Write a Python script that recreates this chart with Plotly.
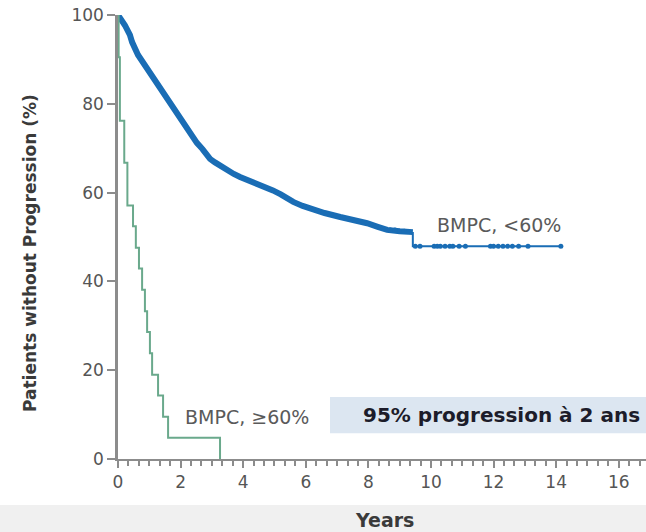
import plotly.graph_objects as go

# Kaplan-Meier estimates: time (years) and % of patients without progression
low_bmpc_t = [0, 0.1, 0.22, 0.38, 0.45, 0.64, 0.8, 0.96, 1.12, 1.28, 1.44, 1.6,
              1.76, 2.0, 2.2, 2.4, 2.52, 2.7, 2.94, 3.1, 3.26, 3.48, 3.7, 3.9, 4.22,
              4.5, 4.76, 4.95, 5.2, 5.4, 5.6, 5.9, 6.23, 6.6, 7.1, 7.5, 7.96, 8.3,
              8.6, 9.0, 9.23, 9.42, 14.15]
low_bmpc_s = [100, 99.0, 97.7, 95.5, 93.9, 91.0, 89.3, 87.8, 86.0, 84.2, 83.1, 81.2,
              79.3, 76.8, 74.8, 72.8, 71.2, 69.8, 67.6, 66.8, 66.0, 65.0, 64.2, 63.5,
              62.6, 62.0, 61.2, 60.5, 59.6, 58.6, 57.9, 57.0, 56.1, 55.4, 54.5, 53.9,
              53.1, 52.3, 51.6, 51.3, 51.1, 47.9, 47.9]
low_bmpc_censored = [8.7, 8.85, 9.0, 9.15, 9.5, 9.65, 10.1, 10.2, 10.3, 10.45, 10.6,
                     10.7, 10.9, 11.1, 11.9, 12.0, 12.15, 12.3, 12.45, 12.6, 12.8,
                     13.1, 14.15]

high_bmpc_t = [0, 0.02, 0.06, 0.2, 0.3, 0.48, 0.57, 0.67, 0.77, 0.86, 0.93, 1.02,
               1.09, 1.28, 1.44, 1.60, 3.26]
high_bmpc_s = [100, 90.5, 76.2, 66.7, 57.1, 52.4, 47.6, 42.9, 38.1, 33.3, 28.6, 23.8,
               19.0, 14.3, 9.5, 4.8, 0]

x_ticks = [0, 2, 4, 6, 8, 10, 12, 14, 16]
y_ticks = [0, 20, 40, 60, 80, 100]

BLUE = "#1a6db5"
GREEN = "#6aa98c"
AXIS = "#8c8c8c"
TEXT = "#555555"
FONT = "DejaVu Sans, Liberation Sans, sans-serif"


def surv_at(ts, ss, t):
    """Value of a right-continuous step function at time t."""
    val = ss[0]
    for ti, si in zip(ts, ss):
        if ti <= t:
            val = si
        else:
            break
    return val


fig = go.Figure()

# Main body of the <60% curve: many small steps and censor ticks blend into a thick band
split = low_bmpc_t.index(9.42)
body_t = low_bmpc_t[:split] + [low_bmpc_t[split]]
body_s = low_bmpc_s[:split] + [low_bmpc_s[split - 1]]
fig.add_trace(go.Scatter(
    x=body_t, y=body_s, mode="lines",
    line=dict(color=BLUE, width=6, shape="linear"), cliponaxis=False,
    hoverinfo="skip", showlegend=False))
fig.add_trace(go.Scatter(
    x=[low_bmpc_t[split]] + low_bmpc_t[split:],
    y=[low_bmpc_s[split - 1]] + low_bmpc_s[split:], mode="lines",
    line=dict(color=BLUE, width=2), cliponaxis=False,
    hoverinfo="skip", showlegend=False))
fig.add_trace(go.Scatter(
    x=low_bmpc_censored,
    y=[surv_at(low_bmpc_t, low_bmpc_s, t) for t in low_bmpc_censored],
    mode="markers",
    marker=dict(symbol="circle", size=5, color=BLUE, line=dict(width=0)),
    cliponaxis=False, hoverinfo="skip", showlegend=False))

# >=60% curve
fig.add_trace(go.Scatter(
    x=high_bmpc_t, y=high_bmpc_s, mode="lines",
    line=dict(color=GREEN, width=2, shape="hv"), cliponaxis=False,
    hoverinfo="skip", showlegend=False))

fig.update_layout(
    width=646, height=532, autosize=False,
    margin=dict(l=118, r=0, t=15, b=73),
    paper_bgcolor="white", plot_bgcolor="white",
    font=dict(family=FONT, color=TEXT),
    xaxis=dict(
        range=[0, 16.87], tickvals=x_ticks, ticktext=[str(v) for v in x_ticks],
        showline=True, linecolor=AXIS, linewidth=2,
        ticks="outside", ticklen=7, tickwidth=2, tickcolor=AXIS,
        minor=dict(dtick=1 / 3, tick0=0, ticks="outside", ticklen=5,
                   tickwidth=1.5, tickcolor=AXIS, showgrid=False),
        showgrid=False, zeroline=False,
        tickfont=dict(family=FONT, size=17, color=TEXT)),
    yaxis=dict(
        range=[0, 100], tickvals=y_ticks, ticktext=[str(v) for v in y_ticks],
        showline=True, linecolor=AXIS, linewidth=2.5,
        ticks="outside", ticklen=8, tickwidth=1.5, tickcolor=AXIS,
        showgrid=False, zeroline=False,
        tickfont=dict(family=FONT, size=17, color=TEXT)),
    shapes=[
        # light band along the bottom
        dict(type="rect", xref="paper", yref="paper",
             x0=-0.3, x1=1.02, y0=-0.2, y1=-0.1036,
             fillcolor="#f0f0f0", line=dict(width=0), layer="below"),
        # highlight box behind the note
        dict(type="rect", xref="paper", yref="paper",
             x0=0.4015, x1=1.02, y0=0.058, y1=0.1396,
             fillcolor="#dce6f1", line=dict(width=0), layer="below"),
    ],
    annotations=[
        dict(text="BMPC, <60%", x=10.13, y=52.7, xref="x", yref="y",
             xanchor="left", yanchor="middle", showarrow=False,
             font=dict(family=FONT, size=19, color="#5a5a5a")),
        dict(text="BMPC, ≥60%", x=2.08, y=9.4, xref="x", yref="y",
             xanchor="left", yanchor="middle", showarrow=False,
             font=dict(family=FONT, size=19, color="#5a5a5a")),
        dict(text="<b>95% progression à 2 ans</b>", x=7.75, y=9.8,
             xref="x", yref="y", xanchor="left", yanchor="middle",
             showarrow=False,
             font=dict(family=FONT, size=20, color="#1c1c2a")),
        dict(text="<b>Years</b>", x=(384 - 118) / 528, y=(459 - 520) / 444,
             xref="paper", yref="paper", xanchor="center", yanchor="middle",
             showarrow=False, font=dict(family=FONT, size=19, color="#3a3a3a")),
        dict(text="<b>Patients without Progression (%)</b>",
             x=(30 - 118) / 528, y=(459 - 253) / 444,
             xref="paper", yref="paper", xanchor="center", yanchor="middle",
             textangle=-90, showarrow=False,
             font=dict(family=FONT, size=17, color="#3a3a3a")),
    ],
)

fig.write_html("out.html")
